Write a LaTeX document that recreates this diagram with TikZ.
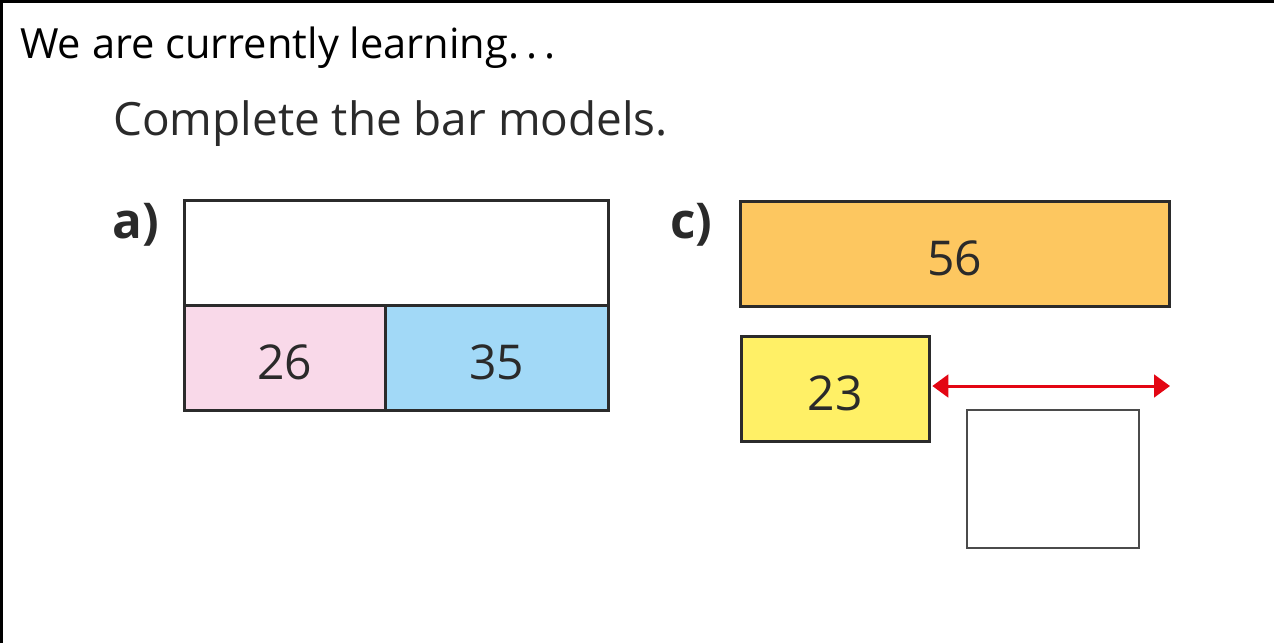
\documentclass[tikz,border=0pt]{standalone}
\usepackage{fontspec}
\setmainfont{Open Sans}
\usetikzlibrary{arrows.meta}
\definecolor{barline}{HTML}{2B2B2B}
\definecolor{pinkfill}{HTML}{F9D9E9}
\definecolor{bluefill}{HTML}{A2D9F7}
\definecolor{orangefill}{HTML}{FDC760}
\definecolor{yellowfill}{HTML}{FFF066}
\definecolor{arrowred}{HTML}{E30613}
\definecolor{txt}{HTML}{2A2A2A}
\tikzset{
  bar/.style={draw=barline, line width=2.25pt, inner sep=0pt, outer sep=0pt,
    anchor=north west, font=\fontsize{36}{40}\selectfont, text=txt,
    text depth=0pt, yshift=-5*0.75pt},
  barbox/.style 2 args={bar, minimum width=#1*0.75pt, minimum height=#2*0.75pt, yshift=5*0.75pt},
  answerbox/.style={draw=barline!85, line width=1.5pt, fill=white, inner sep=0pt,
    outer sep=0pt, anchor=north west, minimum width=172*0.75pt, minimum height=138*0.75pt},
  partlabel/.style={font=\bfseries\fontsize{37}{40}\selectfont, text=txt, anchor=north west, inner sep=0pt},
  numtext/.style={font=\fontsize{36}{40}\selectfont, text=txt, yshift=-5*0.75pt},
}
\begin{document}
\begin{tikzpicture}[x=0.75pt,y=-0.75pt]
\useasboundingbox (0,0) rectangle (1274,643);
% frame (top and left only)
\draw[line width=2.25pt, black] (1.5,643) -- (1.5,1.5) -- (1274,1.5);
% heading
\node[anchor=base west, inner sep=0pt, font=\fontsize{31.2}{34}\selectfont] (learn) at (20,58) {We are currently learning.\,.\,.};
\node[anchor=base west, inner sep=0pt, font=\fontsize{34.4}{38}\selectfont, text=txt] (title) at (113,135) {Complete the bar models.};
% part a
\node[partlabel] (la) at (112,203) {a)};
\node[barbox={424}{105}, fill=white] (whole) at (184,200) {};
\node[barbox={201}{105}, fill=pinkfill] (p26) at (184,305) {};
\node[barbox={223}{105}, fill=bluefill] (p35) at (385,305) {};
\node[numtext] (t26) at (p26.center) {26};
\node[numtext] (t35) at (p35.center) {35};
% part c
\node[partlabel] (lc) at (670,203) {c)};
\node[barbox={429}{105}, fill=orangefill] (p56) at (740,201) {};
\node[barbox={188}{105}, fill=yellowfill] (p23) at (741,336) {};
\node[numtext] (t56) at (p56.center) {56};
\node[numtext] (t23) at (p23.center) {23};
\coordinate (arrR) at (1170,386);
\draw[arrowred, line width=2.25pt, {Triangle[length=12pt,width=17pt]}-{Triangle[length=12pt,width=17pt]}]
  ([xshift=2.5pt]p23.east |- arrR) -- (arrR);
\node[answerbox] (ans) at (967,410) {};
\end{tikzpicture}
\end{document}
